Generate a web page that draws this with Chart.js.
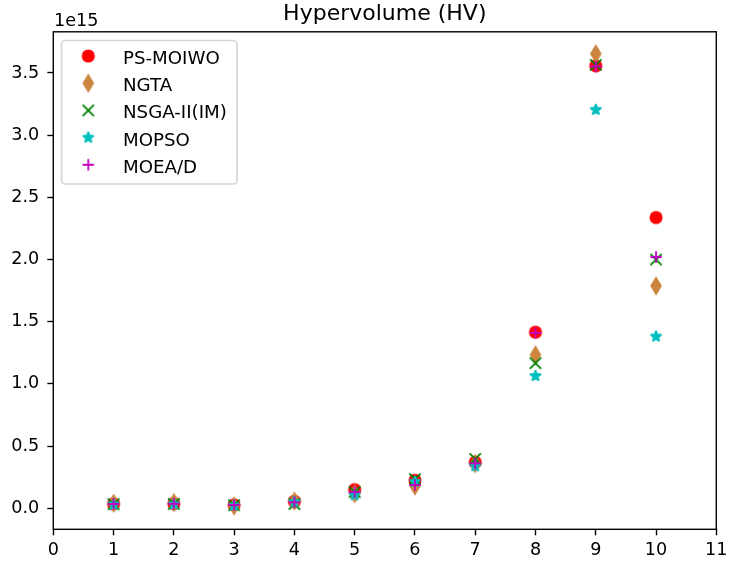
<!DOCTYPE html>
<html>
<head>
<meta charset="utf-8">
<script src="https://cdn.jsdelivr.net/npm/chart.js@4.4.1/dist/chart.umd.min.js"></script>
<style>
  html, body { margin: 0; padding: 0; background: #ffffff; }
  #wrap { width: 732px; height: 564px; }
</style>
</head>
<body>
<div id="wrap"><canvas id="hv" width="732" height="564"></canvas></div>
<script>
// Hypervolume per test instance, in units of 1e15
const instances = [1, 2, 3, 4, 5, 6, 7, 8, 9, 10];
const psMoiwo = [0.036, 0.038, 0.028, 0.056, 0.150, 0.225, 0.370, 1.416, 3.558, 2.338];
const ngta    = [0.040, 0.045, 0.018, 0.058, 0.117, 0.179, 0.359, 1.233, 3.655, 1.788];
const nsga2im = [0.033, 0.035, 0.025, 0.034, 0.130, 0.234, 0.397, 1.167, 3.565, 2.000];
const mopso   = [0.030, 0.032, 0.022, 0.050, 0.105, 0.214, 0.338, 1.064, 3.204, 1.381];
const moead   = [0.035, 0.036, 0.026, 0.048, 0.130, 0.187, 0.362, 1.410, 3.553, 2.020];

const seriesNames = ['PS-MOIWO', 'NGTA', 'NSGA-II(IM)', 'MOPSO', 'MOEA/D'];
const xTicks = [0, 1, 2, 3, 4, 5, 6, 7, 8, 9, 10, 11];
const yTicks = [0, 0.5, 1.0, 1.5, 2.0, 2.5, 3.0, 3.5];
const titleText = 'Hypervolume (HV)';
const offsetText = '1e15';

const FONT = '"DejaVu Sans", "Liberation Sans", sans-serif';
const MS = 11.3;      // marker size in px
const MEW = 1.8;      // marker edge width in px

// Build a marker sprite drawn around the centre of a 22x22 canvas
function makeMarker(kind, color) {
  const c = document.createElement('canvas');
  c.width = 22; c.height = 22;
  const g = c.getContext('2d');
  g.translate(11, 11);
  g.fillStyle = color;
  g.strokeStyle = color;
  g.lineWidth = MEW;
  const h = MS / 2;
  g.beginPath();
  if (kind === 'circle') {
    g.arc(0, 0, h, 0, Math.PI * 2);
    g.fill(); g.stroke();
  } else if (kind === 'thinDiamond') {
    const hy = h * Math.SQRT2, hx = hy * 0.6;
    g.lineJoin = 'miter';
    g.moveTo(0, -hy); g.lineTo(hx, 0); g.lineTo(0, hy); g.lineTo(-hx, 0);
    g.closePath(); g.fill(); g.stroke();
  } else if (kind === 'x') {
    g.lineCap = 'butt';
    g.moveTo(-h, -h); g.lineTo(h, h);
    g.moveTo(-h, h); g.lineTo(h, -h);
    g.stroke();
  } else if (kind === 'plus') {
    g.lineCap = 'butt';
    g.moveTo(-h, 0); g.lineTo(h, 0);
    g.moveTo(0, -h); g.lineTo(0, h);
    g.stroke();
  } else if (kind === 'star') {
    const inner = 0.381966;
    g.lineJoin = 'bevel';
    for (let i = 0; i < 10; i++) {
      const r = (i % 2 === 0 ? 1 : inner) * h;
      const a = -Math.PI / 2 + i * Math.PI / 5;
      const px = r * Math.cos(a), py = r * Math.sin(a);
      if (i === 0) g.moveTo(px, py); else g.lineTo(px, py);
    }
    g.closePath(); g.fill(); g.stroke();
  }
  return c;
}

const seriesValues = [psMoiwo, ngta, nsga2im, mopso, moead];
const seriesColors = ['#ff0000', '#cd853f', '#008000', '#00bfbf', '#bf00bf'];
const seriesMarkers = ['circle', 'thinDiamond', 'x', 'star', 'plus'].map((k, i) => makeMarker(k, seriesColors[i]));

const datasets = seriesValues.map((vals, i) => ({
  label: seriesNames[i],
  data: instances.map((x, j) => ({ x: x, y: vals[j] })),
  pointStyle: seriesMarkers[i],
  pointRadius: 6,
  pointHoverRadius: 6,
  backgroundColor: seriesColors[i],
  borderColor: seriesColors[i],
  showLine: false,
  order: seriesValues.length - i   // later series are painted on top
}));

// Axes frame, title, exponent label and legend box
const decorations = {
  id: 'decorations',
  afterDraw(chart) {
    const ctx = chart.ctx;
    const a = chart.chartArea;
    ctx.save();
    // spines
    ctx.strokeStyle = '#000000';
    ctx.lineWidth = 1.39;
    ctx.strokeRect(a.left, a.top, a.right - a.left, a.bottom - a.top);
    // title
    ctx.fillStyle = '#000000';
    ctx.font = '22px ' + FONT;
    ctx.textAlign = 'center';
    ctx.textBaseline = 'alphabetic';
    ctx.fillText(titleText, (a.left + a.right) / 2, 19.5);
    // exponent
    ctx.font = '17.6px ' + FONT;
    ctx.textAlign = 'left';
    ctx.fillText(offsetText, a.left + 0.7, 26);
    // legend
    const lx = 61.5, ly = 40.5, lw = 175.5, lh = 143.5, rr = 3.5;
    ctx.beginPath();
    ctx.moveTo(lx + rr, ly);
    ctx.arcTo(lx + lw, ly, lx + lw, ly + lh, rr);
    ctx.arcTo(lx + lw, ly + lh, lx, ly + lh, rr);
    ctx.arcTo(lx, ly + lh, lx, ly, rr);
    ctx.arcTo(lx, ly, lx + lw, ly, rr);
    ctx.closePath();
    ctx.fillStyle = 'rgba(255,255,255,0.8)';
    ctx.fill();
    ctx.strokeStyle = 'rgba(204,204,204,0.8)';
    ctx.lineWidth = 1.74;
    ctx.stroke();
    ctx.fillStyle = '#000000';
    ctx.font = '18.2px ' + FONT;
    ctx.textAlign = 'left';
    seriesNames.forEach((name, i) => {
      const cy = 56 + i * 27.2;
      const m = seriesMarkers[i];
      ctx.drawImage(m, 88.3 - m.width / 2, cy - m.height / 2);
      ctx.fillText(name, 123, cy + 8);
    });
    ctx.restore();
  }
};

new Chart(document.getElementById('hv'), {
  type: 'scatter',
  data: { datasets: datasets },
  options: {
    responsive: false,
    animation: false,
    devicePixelRatio: 1,
    layout: { padding: { top: 31.8, right: 12.7, left: 0, bottom: 0 } },
    plugins: {
      legend: { display: false },
      title: { display: false },
      tooltip: { enabled: false }
    },
    scales: {
      x: {
        type: 'linear',
        min: 0,
        max: 11,
        afterBuildTicks(scale) { scale.ticks = xTicks.map(v => ({ value: v })); },
        afterFit(scale) { scale.height = 34.7; },
        border: { display: false },
        grid: { drawOnChartArea: false, drawTicks: true, tickLength: 6, tickWidth: 1.39, tickColor: '#000000' },
        ticks: {
          color: '#000000',
          padding: 4.5,
          maxRotation: 0,
          autoSkip: false,
          font: { family: FONT, size: 17.6 },
          callback: v => String(v)
        }
      },
      y: {
        type: 'linear',
        min: -0.169,
        max: 3.831,
        afterBuildTicks(scale) { scale.ticks = yTicks.map(v => ({ value: v })); },
        afterFit(scale) { scale.width = 53.3; },
        border: { display: false },
        grid: { drawOnChartArea: false, drawTicks: true, tickLength: 6, tickWidth: 1.39, tickColor: '#000000' },
        ticks: {
          color: '#000000',
          padding: 8,
          autoSkip: false,
          font: { family: FONT, size: 17.6 },
          callback: v => v.toFixed(1)
        }
      }
    }
  },
  plugins: [decorations]
});
</script>
</body>
</html>
